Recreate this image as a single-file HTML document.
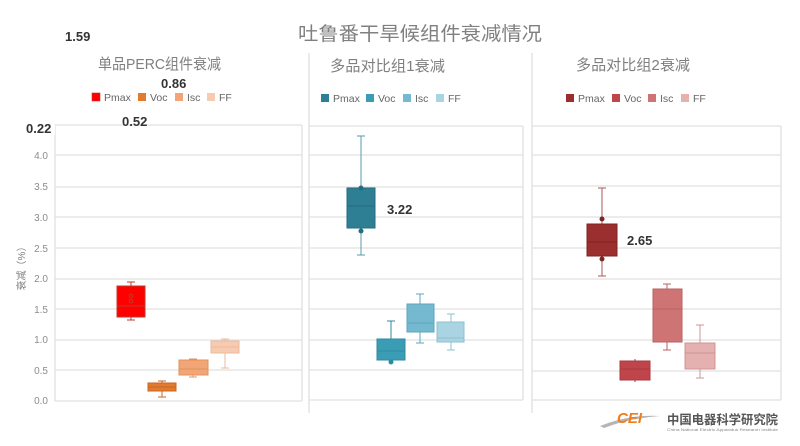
<!DOCTYPE html>
<html><head><meta charset="utf-8"><style>
html,body{margin:0;padding:0;background:#fff;}
svg{display:block;}
text{font-family:"Liberation Sans","Noto Sans CJK SC",sans-serif;}
</style></head><body>
<svg width="800" height="446" viewBox="0 0 800 446" xmlns="http://www.w3.org/2000/svg">
<rect width="800" height="446" fill="#fff"/>
<!-- main title -->
<text x="298" y="40" font-size="19" fill="#808080" textLength="244" lengthAdjust="spacingAndGlyphs">吐鲁番干旱候组件衰减情况</text>
<!-- dividers -->
<line x1="309" y1="53" x2="309" y2="413" stroke="#e3e3e3" stroke-width="1.5"/>
<line x1="532" y1="53" x2="532" y2="413" stroke="#e3e3e3" stroke-width="1.5"/>

<!-- gridlines panel 1 -->
<g stroke="#e0e0e0" stroke-width="1.3">
<line x1="55" y1="125" x2="302" y2="125"/><line x1="55" y1="155" x2="302" y2="155"/><line x1="55" y1="187" x2="302" y2="187"/><line x1="55" y1="217" x2="302" y2="217"/><line x1="55" y1="248" x2="302" y2="248"/><line x1="55" y1="279" x2="302" y2="279"/><line x1="55" y1="309" x2="302" y2="309"/><line x1="55" y1="340" x2="302" y2="340"/><line x1="55" y1="370" x2="302" y2="370"/><line x1="55" y1="401" x2="302" y2="401"/>
<line x1="55" y1="125" x2="55" y2="401"/><line x1="302" y1="125" x2="302" y2="401"/>
</g>
<!-- gridlines panel 2 -->
<g stroke="#e0e0e0" stroke-width="1.3">
<line x1="309" y1="126" x2="523" y2="126"/><line x1="309" y1="155" x2="523" y2="155"/><line x1="309" y1="187" x2="523" y2="187"/><line x1="309" y1="217" x2="523" y2="217"/><line x1="309" y1="248" x2="523" y2="248"/><line x1="309" y1="279" x2="523" y2="279"/><line x1="309" y1="309" x2="523" y2="309"/><line x1="309" y1="340" x2="523" y2="340"/><line x1="309" y1="370" x2="523" y2="370"/><line x1="309" y1="400" x2="523" y2="400"/>
<line x1="523" y1="126" x2="523" y2="400"/>
</g>
<!-- gridlines panel 3 -->
<g stroke="#e0e0e0" stroke-width="1.3">
<line x1="532" y1="126" x2="781" y2="126"/><line x1="532" y1="155" x2="781" y2="155"/><line x1="532" y1="186" x2="781" y2="186"/><line x1="532" y1="217" x2="781" y2="217"/><line x1="532" y1="248" x2="781" y2="248"/><line x1="532" y1="279" x2="781" y2="279"/><line x1="532" y1="309" x2="781" y2="309"/><line x1="532" y1="340" x2="781" y2="340"/><line x1="532" y1="371" x2="781" y2="371"/><line x1="532" y1="400" x2="781" y2="400"/>
<line x1="781" y1="126" x2="781" y2="400"/>
</g>

<!-- y ticks -->
<g font-size="10" fill="#8c8c8c" text-anchor="end">
<text x="48" y="129">4.5</text>
<text x="48" y="159">4.0</text>
<text x="48" y="190">3.5</text>
<text x="48" y="221">3.0</text>
<text x="48" y="252">2.5</text>
<text x="48" y="282">2.0</text>
<text x="48" y="313">1.5</text>
<text x="48" y="343">1.0</text>
<text x="48" y="374">0.5</text>
<text x="48" y="404">0.0</text>
</g>
<text transform="translate(25,266) rotate(-90)" font-size="10" fill="#7f7f7f" text-anchor="middle">衰减（%）</text>

<!-- panel titles -->
<text x="98" y="69" font-size="15" fill="#7f7f7f" textLength="123" lengthAdjust="spacingAndGlyphs">单品PERC组件衰减</text>
<text x="330" y="71" font-size="15" fill="#7f7f7f" textLength="115" lengthAdjust="spacingAndGlyphs">多品对比组1衰减</text>
<text x="576" y="70" font-size="15" fill="#7f7f7f" textLength="114" lengthAdjust="spacingAndGlyphs">多品对比组2衰减</text>

<!-- legends -->
<g font-size="10.5" fill="#666">
<rect x="92" y="93" width="8" height="8" fill="#ff0000" stroke="#c0392b" stroke-width="0.6"/><text x="104" y="101">Pmax</text>
<rect x="138" y="93" width="8" height="8" fill="#e07b30"/><text x="150" y="101">Voc</text>
<rect x="175" y="93" width="8" height="8" fill="#f2a577"/><text x="187" y="101">Isc</text>
<rect x="207" y="93" width="8" height="8" fill="#f7cbb2"/><text x="219" y="101">FF</text>

<rect x="321" y="94" width="8" height="8" fill="#2e7f93"/><text x="333" y="102">Pmax</text>
<rect x="366" y="94" width="8" height="8" fill="#3a9db5"/><text x="378" y="102">Voc</text>
<rect x="403" y="94" width="8" height="8" fill="#74b9cf"/><text x="415" y="102">Isc</text>
<rect x="436" y="94" width="8" height="8" fill="#abd4e2"/><text x="448" y="102">FF</text>

<rect x="566" y="94" width="8" height="8" fill="#9b2f2f"/><text x="578" y="102">Pmax</text>
<rect x="612" y="94" width="8" height="8" fill="#c0454a"/><text x="624" y="102">Voc</text>
<rect x="648" y="94" width="8" height="8" fill="#cf7474"/><text x="660" y="102">Isc</text>
<rect x="681" y="94" width="8" height="8" fill="#e5b0b0"/><text x="693" y="102">FF</text>
</g>

<!-- Panel 1 boxes -->
<g stroke-width="1">
<!-- Pmax -->
<g stroke="#c0392b">
<line x1="131" y1="282" x2="131" y2="320"/><line x1="127" y1="282" x2="135" y2="282"/><line x1="127" y1="320" x2="135" y2="320"/>
<rect x="117" y="286" width="28" height="31" fill="#ff0000"/>
<line x1="117" y1="306" x2="145" y2="306"/>
<circle cx="131" cy="296" r="1.8" fill="none"/><circle cx="131" cy="301" r="1.8" fill="none"/>
</g>
<!-- Voc -->
<g stroke="#c8661f">
<line x1="162" y1="381" x2="162" y2="397"/><line x1="158" y1="381" x2="166" y2="381"/><line x1="158" y1="397" x2="166" y2="397"/>
<rect x="148" y="383" width="28" height="8" fill="#e07b30"/>
<line x1="148" y1="387" x2="176" y2="387"/>
</g>
<!-- Isc -->
<g stroke="#e0915e">
<line x1="193" y1="359" x2="193" y2="377"/><line x1="189" y1="359" x2="197" y2="359"/><line x1="189" y1="377" x2="197" y2="377"/>
<rect x="179" y="360" width="29" height="15" fill="#f2a577"/>
<line x1="179" y1="369" x2="208" y2="369"/>
</g>
<!-- FF -->
<g stroke="#ecb89a">
<line x1="225" y1="339" x2="225" y2="368"/><line x1="221" y1="339" x2="229" y2="339"/><line x1="221" y1="368" x2="229" y2="368"/>
<rect x="211" y="341" width="28" height="12" fill="#f7cbb2"/>
<line x1="211" y1="347" x2="239" y2="347"/>
</g>
</g>

<!-- Panel 2 boxes -->
<g stroke-width="1">
<g stroke="#5e9aab">
<line x1="361" y1="136" x2="361" y2="255"/><line x1="357" y1="136" x2="365" y2="136"/><line x1="357" y1="255" x2="365" y2="255"/>
</g>
<g stroke="#256c7e">
<rect x="347" y="188" width="28" height="40" fill="#2e7f93"/>
<line x1="347" y1="206" x2="375" y2="206"/>
<circle cx="361" cy="231" r="2" fill="#256c7e"/><circle cx="361" cy="188" r="2" fill="#256c7e"/>
</g>
<g stroke="#2f8aa0">
<line x1="391" y1="321" x2="391" y2="363"/><line x1="387" y1="321" x2="395" y2="321"/>
<rect x="377" y="339" width="28" height="21" fill="#3a9db5"/>
<line x1="377" y1="351" x2="405" y2="351"/>
<circle cx="391" cy="362" r="2" fill="#2f8aa0"/>
</g>
<g stroke="#5ea6be">
<line x1="420" y1="294" x2="420" y2="343"/><line x1="416" y1="294" x2="424" y2="294"/><line x1="416" y1="343" x2="424" y2="343"/>
<rect x="407" y="304" width="27" height="28" fill="#74b9cf"/>
<line x1="407" y1="323" x2="434" y2="323"/>
</g>
<g stroke="#8fbfcf">
<line x1="451" y1="314" x2="451" y2="350"/><line x1="447" y1="314" x2="455" y2="314"/><line x1="447" y1="350" x2="455" y2="350"/>
<rect x="437" y="322" width="27" height="20" fill="#abd4e2"/>
<line x1="437" y1="338" x2="464" y2="338"/>
</g>
</g>

<!-- Panel 3 boxes -->
<g stroke-width="1">
<g stroke="#a85a5a">
<line x1="602" y1="188" x2="602" y2="276"/><line x1="598" y1="188" x2="606" y2="188"/><line x1="598" y1="276" x2="606" y2="276"/>
</g>
<g stroke="#7d2424">
<rect x="587" y="224" width="30" height="32" fill="#9b2f2f"/>
<line x1="587" y1="242" x2="617" y2="242"/>
<circle cx="602" cy="219" r="2" fill="#7d2424"/><circle cx="602" cy="259" r="2" fill="#7d2424"/>
</g>
<g stroke="#a83a3f">
<line x1="635" y1="359" x2="635" y2="382"/>
<rect x="620" y="361" width="30" height="19" fill="#c0454a"/>
<line x1="620" y1="369" x2="650" y2="369"/>
</g>
<g stroke="#b86262">
<line x1="667" y1="284" x2="667" y2="350"/><line x1="663" y1="284" x2="671" y2="284"/><line x1="663" y1="350" x2="671" y2="350"/>
<rect x="653" y="289" width="29" height="53" fill="#cf7474"/>
<line x1="653" y1="309" x2="682" y2="309"/>
</g>
<g stroke="#cf9494">
<line x1="700" y1="325" x2="700" y2="378"/><line x1="696" y1="325" x2="704" y2="325"/><line x1="696" y1="378" x2="704" y2="378"/>
<rect x="685" y="343" width="30" height="26" fill="#e5b0b0"/>
<line x1="685" y1="353" x2="715" y2="353"/>
</g>
</g>

<!-- value labels -->
<g font-size="13" fill="#333" font-weight="bold">
<text x="65" y="41">1.59</text>
<text x="161" y="88">0.86</text>
<text x="122" y="126">0.52</text>
<rect x="25" y="121" width="30" height="14" fill="#fff" stroke="none"/>
<text x="26" y="133">0.22</text>
<text x="387" y="214">3.22</text>
<text x="627" y="245">2.65</text>
</g>

<!-- logo -->
<path d="M600 426 Q630 414 660 416 Q630 418 604 428 Z" fill="#b5b5b5"/>
<text x="617" y="423" font-size="15" font-weight="bold" font-style="italic" fill="#f07d1a">CEI</text>
<text x="667" y="424" font-size="12.5" font-weight="bold" fill="#555" textLength="111" lengthAdjust="spacingAndGlyphs">中国电器科学研究院</text>
<text x="667" y="431" font-size="3.5" fill="#888" textLength="111" lengthAdjust="spacingAndGlyphs">China National Electric Apparatus Research Institute</text>
</svg>
</body></html>
